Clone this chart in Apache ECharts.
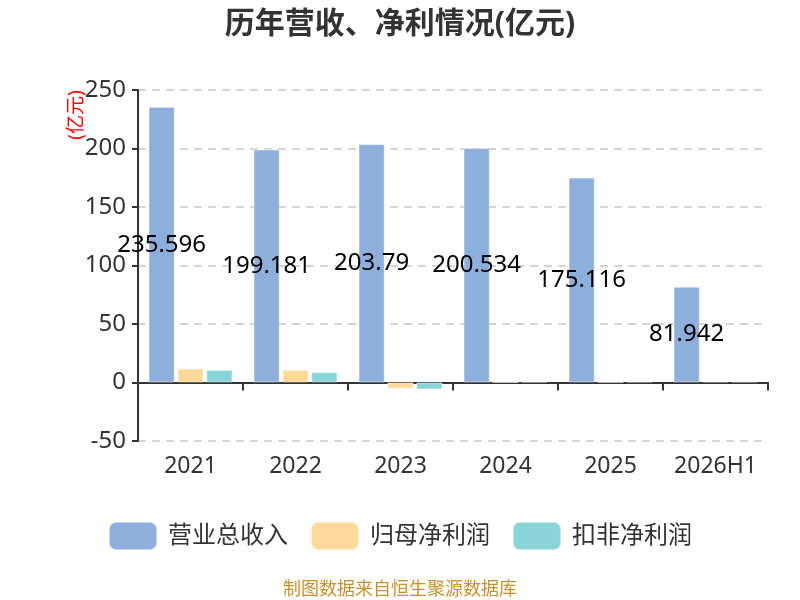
<!DOCTYPE html>
<html>
<head>
<meta charset="utf-8">
<script src="https://cdn.jsdelivr.net/npm/echarts@6/dist/echarts.min.js"></script>
<style>
  html, body { margin: 0; padding: 0; background: #fff; }
  #main { width: 800px; height: 600px; }
</style>
</head>
<body>
<div id="main"></div>
<script>
// 数据
var years = ['2021', '2022', '2023', '2024', '2025', '2026H1'];
var revenue = [235.596, 199.181, 203.79, 200.534, 175.116, 81.942];
var netProfit = [12.0, 10.8, -5.3, 0.2, 0.3, 1.0];
var deductedProfit = [10.8, 8.9, -6.0, 0.8, 0.9, 1.0];

var myChart = echarts.init(document.getElementById('main'));

var fontFamily = '"Noto Sans", "Noto Sans CJK SC", sans-serif';
var barBorder = 'rgba(255,255,255,0.5)';

var option = {
  backgroundColor: '#fff',
  textStyle: { fontFamily: fontFamily },
  title: {
    text: '历年营收、净利情况(亿元)',
    left: 'center',
    top: 4,
    textStyle: { fontSize: 30, fontWeight: 'bold', color: '#333', fontFamily: fontFamily }
  },
  legend: {
    bottom: 44,
    left: 'center',
    itemWidth: 48,
    itemHeight: 28,
    itemGap: 22,
    icon: 'roundRect',
    textStyle: { fontSize: 24, color: '#333', fontFamily: fontFamily, padding: [0, 0, 0, 6] },
    data: ['营业总收入', '归母净利润', '扣非净利润']
  },
  grid: { left: 138, right: 32, top: 90, bottom: 159 },
  xAxis: [{
    type: 'category',
    data: years,
    axisLine: { onZero: true, lineStyle: { color: '#333', width: 2 } },
    axisTick: { show: true, length: 8, lineStyle: { color: '#333', width: 2 } },
    axisLabel: { show: false }
  }, {
    type: 'category',
    data: years,
    position: 'bottom',
    axisLine: { show: false },
    axisTick: { show: false },
    axisLabel: { interval: 0, fontSize: 23, color: '#333', margin: 14, fontFamily: fontFamily }
  }],
  yAxis: {
    type: 'value',
    min: -50,
    max: 250,
    interval: 50,
    axisLine: { show: true, lineStyle: { color: '#333', width: 2 } },
    axisTick: { show: true, length: 6, lineStyle: { color: '#333', width: 2 } },
    axisLabel: { fontSize: 24, color: '#333', margin: 12, fontFamily: fontFamily },
    splitLine: { lineStyle: { color: '#c8c8c8', type: [8, 6], width: 1.5 } }
  },
  graphic: [{
    type: 'text',
    x: 77,
    y: 115,
    rotation: Math.PI / 2,
    style: {
      text: '(亿元)',
      fill: '#ff0000',
      fontSize: 19,
      fontFamily: fontFamily,
      align: 'center',
      verticalAlign: 'middle'
    }
  }],
  series: [{
    name: '营业总收入',
    type: 'bar',
    data: revenue,
    barCategoryGap: '20%',
    barGap: '10%',
    itemStyle: { color: '#8eaedb', borderColor: barBorder, borderWidth: 1 },
    label: {
      show: true,
      position: 'inside',
      color: '#000',
      fontSize: 24,
      fontFamily: fontFamily
    }
  }, {
    name: '归母净利润',
    type: 'bar',
    data: netProfit,
    itemStyle: { color: '#ffd99a', borderColor: barBorder, borderWidth: 1 }
  }, {
    name: '扣非净利润',
    type: 'bar',
    data: deductedProfit,
    itemStyle: { color: '#88d4d8', borderColor: barBorder, borderWidth: 1 }
  }]
};

option.graphic.push({
  type: 'text',
  left: 'center',
  bottom: 1,
  style: {
    text: '制图数据来自恒生聚源数据库',
    fill: '#c8922c',
    fontSize: 18,
    fontFamily: fontFamily
  }
});

myChart.setOption(option);
</script>
</body>
</html>
